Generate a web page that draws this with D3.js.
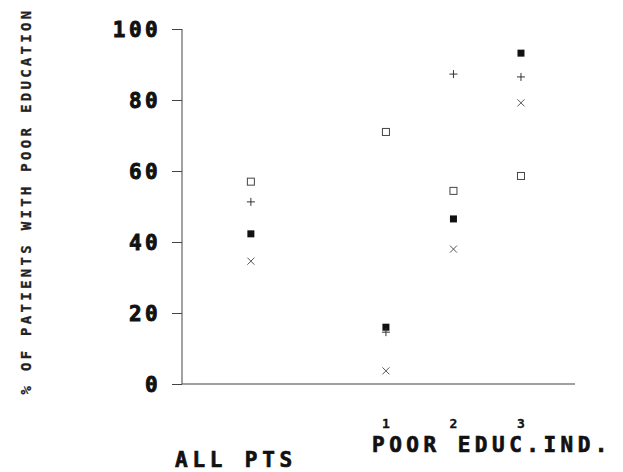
<!DOCTYPE html>
<html><head><meta charset="utf-8">
<script src="https://cdn.jsdelivr.net/npm/d3@7"></script>
<style>body{margin:0;background:#fff}svg{display:block}</style>
</head><body>
<script>
const categories = ["ALL PTS", "1", "2", "3"];
const categoryPos = [-1, 1, 2, 3];
const openSquare = [57, 71, 54.4, 58.6];
const plusSeries = [51.3, 14.6, 87.3, 86.5];
const filledSquare = [42.3, 16, 46.5, 93.2];
const crossSeries = [34.6, 3.7, 38, 79.2];
const yTicks = [0, 20, 40, 60, 80, 100];
const xTickLabels = ["1", "2", "3"];

const W = 623, H = 472;
const svg = d3.select("body").append("svg").attr("width", W).attr("height", H);
const x = d3.scaleLinear().domain([-2.02, 3.8]).range([182, 575]);
const y = d3.scaleLinear().domain([0, 100]).range([384, 29]);
const mono = "'DejaVu Sans Mono', 'Liberation Mono', monospace";

// axes
const yAxis = d3.axisLeft(y).tickValues(yTicks).tickSize(10).tickPadding(14).tickFormat(d3.format("d"));
const gy = svg.append("g").attr("transform", `translate(${x(-2.02)},0)`).call(yAxis);
gy.select(".domain").attr("stroke", "#444").attr("stroke-width", 1).attr("d", `M0,${y(100)}V${y(0)}`);
gy.selectAll(".tick line").attr("stroke", "#444");
gy.selectAll(".tick text").attr("font-family", mono).attr("font-weight", "bold").attr("font-size", 21)
  .attr("letter-spacing", 3.4).attr("fill", "#111").attr("stroke", "#111").attr("stroke-width", 0.9)
  .attr("dy", "0.36em").attr("dx", 3);

svg.append("line").attr("x1", x(-2.02)).attr("x2", x(3.8)).attr("y1", y(0)).attr("y2", y(0))
  .attr("stroke", "#444").attr("stroke-width", 1.2);

// x tick labels
svg.selectAll(".xt").data(xTickLabels).join("text")
  .attr("x", (d, i) => x(categoryPos[i + 1])).attr("y", 428)
  .attr("text-anchor", "middle").attr("font-family", mono).attr("font-weight", "bold")
  .attr("font-size", 13).attr("fill", "#111").attr("stroke", "#111").attr("stroke-width", 0.3).text(d => d);

svg.append("text").attr("x", 236).attr("y", 467).attr("text-anchor", "middle")
  .attr("font-family", mono).attr("font-weight", "bold").attr("font-size", 21)
  .attr("letter-spacing", 4.8).attr("fill", "#111").attr("stroke", "#111").attr("stroke-width", 0.7).text(categories[0]);

svg.append("text").attr("x", 492).attr("y", 452).attr("text-anchor", "middle")
  .attr("font-family", mono).attr("font-weight", "bold").attr("font-size", 21)
  .attr("letter-spacing", 4.5).attr("fill", "#111").attr("stroke", "#111").attr("stroke-width", 0.7).text("POOR EDUC.IND.");

svg.append("text").attr("transform", "translate(31,201) rotate(-90)").attr("text-anchor", "middle")
  .attr("font-family", mono).attr("font-weight", "bold").attr("font-size", 14)
  .attr("letter-spacing", 3.3).attr("fill", "#222").attr("stroke", "#222").attr("stroke-width", 0.3)
  .text("% OF PATIENTS WITH POOR EDUCATION");

// markers
const g = svg.append("g");
g.selectAll(".os").data(openSquare).join("rect")
  .attr("x", (d, i) => x(categoryPos[i]) - 3.5).attr("y", d => y(d) - 3.5)
  .attr("width", 7).attr("height", 7).attr("fill", "none").attr("stroke", "#444").attr("stroke-width", 1);
g.selectAll(".fs").data(filledSquare).join("rect")
  .attr("x", (d, i) => x(categoryPos[i]) - 3.5).attr("y", d => y(d) - 3.5)
  .attr("width", 7).attr("height", 7).attr("fill", "#111");
g.selectAll(".pl").data(plusSeries).join("path")
  .attr("d", (d, i) => { const cx = x(categoryPos[i]), cy = y(d); return `M${cx-4},${cy}H${cx+4}M${cx},${cy-4}V${cy+4}`; })
  .attr("stroke", "#333").attr("stroke-width", 1);
g.selectAll(".cr").data(crossSeries).join("path")
  .attr("d", (d, i) => { const cx = x(categoryPos[i]), cy = y(d); return `M${cx-3.5},${cy-3.5}L${cx+3.5},${cy+3.5}M${cx-3.5},${cy+3.5}L${cx+3.5},${cy-3.5}`; })
  .attr("stroke", "#555").attr("stroke-width", 1);
</script>
</body></html>
